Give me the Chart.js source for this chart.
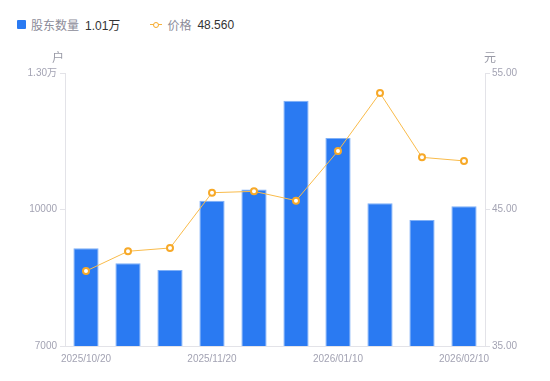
<!DOCTYPE html>
<html><head><meta charset="utf-8">
<script src="https://cdn.jsdelivr.net/npm/chart.js@4/dist/chart.umd.min.js"></script>
<style>
html,body{margin:0;padding:0;background:#fff;}
#wrap{position:relative;width:550px;height:381px;font-family:"Liberation Sans","Noto Sans CJK SC",sans-serif;}
#legend{position:absolute;left:17px;top:16px;font-size:12px;display:flex;align-items:center;white-space:nowrap;}
.sq{display:inline-block;width:9px;height:9px;background:#2a7af2;border-radius:1px;margin-right:5px;}
.lbl{color:#8c8c99;}
.val{color:#333;margin-left:6px;}
.li{position:relative;display:inline-block;width:12px;height:9px;margin-right:5px;}
.li:before{content:"";position:absolute;left:0;right:0;top:4px;height:1px;background:#f7b33c;}
.li:after{content:"";position:absolute;left:3px;top:1.5px;width:4px;height:4px;border:1.5px solid #f7a928;border-radius:50%;background:#fff;}
canvas{position:absolute;left:0;top:0;}
</style></head>
<body><div id="wrap">
<div id="legend"><span class="sq"></span><span class="lbl">股东数量</span><span class="val">1.01万</span><span style="display:inline-block;width:30px"></span><span class="li"></span><span class="lbl">价格</span><span class="val">48.560</span></div>
<canvas id="c" width="550" height="381"></canvas>
</div>
<script>
const categories = ["2025/10/20","2025/10/31","2025/11/10","2025/11/20","2025/11/30","2025/12/31","2026/01/10","2026/01/20","2026/01/31","2026/02/10"];
const holders = [9150, 8820, 8670, 10190, 10440, 12390, 11570, 10140, 9770, 10070];
const prices = [40.49, 41.94, 42.18, 46.23, 46.33, 45.65, 49.29, 53.53, 48.82, 48.56];
const shownLabels = ["2025/10/20","2025/11/20","2026/01/10","2026/02/10"];
const leftTicks = [7000, 10000, 13000];
const rightTicks = [35, 45, 55];

const tickColor = '#a3a3b3';
const axisColor = '#e3e3e8';
const tickFont = {size:10, family:'"Liberation Sans", "Noto Sans CJK SC", sans-serif'};

const titlePlugin = {
  id:'axisTitles',
  afterDraw(chart){
    const ctx = chart.ctx;
    ctx.save();
    ctx.font = '12px "Noto Sans CJK SC", sans-serif';
    ctx.fillStyle = '#999aa6';
    ctx.textAlign = 'center';
    ctx.textBaseline = 'middle';
    const a = chart.chartArea;
    ctx.fillText('户', a.left - 7, a.top - 16);
    ctx.fillText('元', a.right + 5, a.top - 16);
    ctx.restore();
  }
};

new Chart(document.getElementById('c'), {
  data: {
    labels: categories,
    datasets: [
      {type:'line', label:'价格', data: prices, yAxisID:'y1', order:0,
       borderColor:'#f9bb4a', borderWidth:1, pointRadius:3, pointBorderWidth:2,
       pointBackgroundColor:'#fff', pointBorderColor:'#f7a928', tension:0},
      {type:'bar', label:'股东数量', data: holders, yAxisID:'y', order:1,
       backgroundColor:'#2a7af2', borderColor:'#7fb0f7', borderWidth:{top:1,left:1,right:1,bottom:0},
       barPercentage:0.6, categoryPercentage:1}
    ]
  },
  options: {
    responsive:false, animation:false,
    layout:{padding:{top:73, left:0, right:0, bottom:0}},
    plugins:{legend:{display:false}, tooltip:{enabled:false}},
    scales:{
      x:{
        grid:{display:true, drawOnChartArea:false, drawTicks:false, color:axisColor},
        border:{color:axisColor},
        ticks:{color:tickColor, font:tickFont, maxRotation:0, autoSkip:false, padding:7,
          callback(v,i){ const l = categories[i]; return shownLabels.includes(l) ? l : ''; }},
        afterFit(s){ s.height = 35; }
      },
      y:{
        position:'left', min:7000, max:13000,
        afterBuildTicks(s){ s.ticks = leftTicks.map(v=>({value:v})); },
        grid:{drawOnChartArea:false, drawTicks:true, tickLength:5, color:axisColor},
        border:{color:axisColor},
        ticks:{color:tickColor, font:tickFont, padding:3,
          callback(v){ return v >= 10000 && v % 10000 !== 0 ? (v/10000).toFixed(2)+'万' : String(v); }},
        afterFit(s){ s.width = 65; }
      },
      y1:{
        position:'right', min:35, max:55,
        afterBuildTicks(s){ s.ticks = rightTicks.map(v=>({value:v})); },
        grid:{drawOnChartArea:false, drawTicks:true, tickLength:5, color:axisColor},
        border:{color:axisColor},
        ticks:{color:tickColor, font:tickFont, padding:2,
          callback(v){ return Number(v).toFixed(2); }},
        afterFit(s){ s.width = 65; }
      }
    }
  },
  plugins:[titlePlugin]
});
</script>
</body></html>
